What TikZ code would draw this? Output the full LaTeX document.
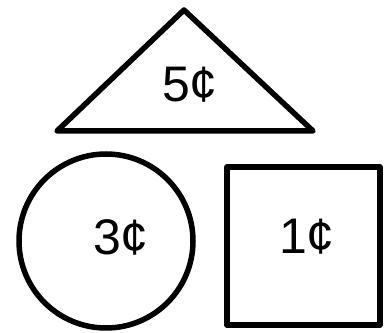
\documentclass[tikz,border=0pt]{standalone}
\usepackage{fontspec}
\setmainfont{Liberation Sans}
\usetikzlibrary{positioning}
\tikzset{
  forme/.style={draw=black,line width=5.5pt,line join=round},
  prix/.style={font=\fontsize{50}{52}\selectfont,inner sep=0pt},
}

\begin{document}
\begin{tikzpicture}[x=1pt,y=1pt]
  \useasboundingbox (0,0) rectangle (388,332);
  % triangle, cercle, carre
  \draw[forme] (57,201) -- (313,201) -- (184,322) -- cycle;
  \draw[forme] (106,91) circle (87);
  \draw[forme] (227,7) rectangle (380,165);
  \node[prix] (cinq) at (190,247) {5¢};
  \node[prix] (trois) at (121,95) {3¢};
  \node[prix] (un) at (307,95) {1¢};
\end{tikzpicture}
\end{document}
